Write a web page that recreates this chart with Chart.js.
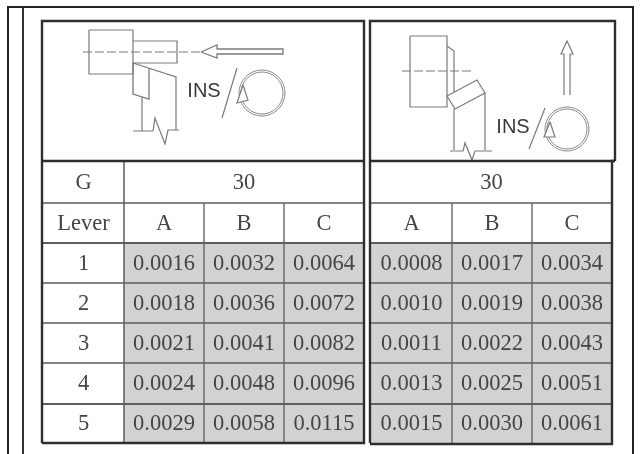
<!DOCTYPE html>
<html>
<head>
<meta charset="utf-8">
<style>
    html, body { margin: 0; padding: 0; background: #fff; }
    canvas { display: block; filter: blur(0.45px); }
</style>
<script src="https://cdn.jsdelivr.net/npm/chart.js@4/dist/chart.umd.min.js"></script>
</head>
<body>
<canvas id="feedChart" width="644" height="454"></canvas>
<script>
// Table content
const levers = [1, 2, 3, 4, 5];
const gears = ['A', 'B', 'C'];
const gLabel = 'G';
const leverLabel = 'Lever';
const gValue = '30';
const insLabel = 'INS';

// Feed values, left block
const leftA = [0.0016, 0.0018, 0.0021, 0.0024, 0.0029];
const leftB = [0.0032, 0.0036, 0.0041, 0.0048, 0.0058];
const leftC = [0.0064, 0.0072, 0.0082, 0.0096, 0.0115];

// Feed values, right block
const rightA = [0.0008, 0.0010, 0.0011, 0.0013, 0.0015];
const rightB = [0.0017, 0.0019, 0.0022, 0.0025, 0.0030];
const rightC = [0.0034, 0.0038, 0.0043, 0.0051, 0.0061];

// Table layout, in scale units (the scales run 1:1 with the page)
const rowEdges = [161, 203, 243, 283, 323, 363, 404, 443];
const leftEdges = [43, 124, 204, 284, 364];
const rightEdges = [371, 452, 532, 612];

const DARK = '#2e2e2e';
const GRID = '#5e5e5e';
const SKETCH = '#7a7a7a';
const TEXT = '#454545';

// Turn a column of values into floating bars, one per row
function columnCells(values, left, right) {
    return values.map((value, i) => ({
        x: (left + right) / 2,
        y: [rowEdges[i + 2], rowEdges[i + 3]],
        label: value.toFixed(4)
    }));
}

const cells = [
    ...columnCells(leftA, leftEdges[1], leftEdges[2]),
    ...columnCells(leftB, leftEdges[2], leftEdges[3]),
    ...columnCells(leftC, leftEdges[3], leftEdges[4]),
    ...columnCells(rightA, rightEdges[0], rightEdges[1]),
    ...columnCells(rightB, rightEdges[1], rightEdges[2]),
    ...columnCells(rightC, rightEdges[2], rightEdges[3])
];

function path(points, color, width, extra) {
    return Object.assign({
        type: 'scatter',
        showLine: true,
        fill: false,
        data: points.map(p => ({ x: p[0], y: p[1] })),
        borderColor: color,
        borderWidth: width,
        pointRadius: 0,
        order: 2
    }, extra || {});
}

function ring(x, y, radius) {
    return {
        type: 'scatter',
        data: [{ x: x, y: y }],
        pointRadius: radius,
        pointBorderColor: '#8a8a8a',
        pointBackgroundColor: 'rgba(0,0,0,0)',
        pointBorderWidth: 1,
        order: 3
    };
}

const datasets = [];

// Gray value cells
datasets.push({
    type: 'bar',
    data: cells,
    backgroundColor: '#d2d2d2',
    barThickness: 80,
    grouped: false,
    order: 10
});

// Outer page frame
datasets.push(path([[8, 454], [8, 7], [633, 7], [633, 454]], '#222', 2));
datasets.push(path([[23, 7], [23, 454]], '#333', 2));

// Boxes around the sketches and the table blocks
datasets.push(path([[42, 443], [42, 21], [364, 21], [364, 443], [42, 443]], DARK, 2.4));
datasets.push(path([[370, 443], [370, 21], [615, 21], [615, 161]], DARK, 2.4));
datasets.push(path([[615, 161], [612, 161], [612, 444], [370, 444]], DARK, 2.4));
datasets.push(path([[42, 161], [364, 161]], DARK, 2.6));
datasets.push(path([[370, 161], [615, 161]], DARK, 2.6));

// Table rules
rowEdges.slice(1, -1).forEach((y, i) => {
    const width = i === 1 || i === 5 ? 2 : 1.4;
    datasets.push(path([[leftEdges[0], y], [leftEdges[4], y]], GRID, width));
    datasets.push(path([[rightEdges[0], y], [rightEdges[3], y]], GRID, width));
});
datasets.push(path([[leftEdges[1], rowEdges[0]], [leftEdges[1], rowEdges[7]]], GRID, 1.5));
leftEdges.slice(2, 4).forEach(x => {
    datasets.push(path([[x, rowEdges[1]], [x, rowEdges[7]]], GRID, 1.3));
});
rightEdges.slice(1, 3).forEach(x => {
    datasets.push(path([[x, rowEdges[1]], [x, rowEdges[7]]], GRID, 1.3));
});

// Left sketch: tool holder, feed arrow, spindle direction
datasets.push(path([[89, 30], [133, 30], [133, 74], [89, 74], [89, 30]], SKETCH, 1.2));
datasets.push(path([[133, 41], [177, 41], [177, 63], [133, 63]], SKETCH, 1.2));
datasets.push(path([[83, 52], [200, 52]], SKETCH, 1, { borderDash: [9, 3] }));
datasets.push(path([[201, 52], [217, 45], [217, 49], [283, 49], [283, 54], [217, 54], [217, 58], [201, 52]], SKETCH, 1.3));
datasets.push(path([[133, 63], [176, 77], [176, 130]], SKETCH, 1.2));
datasets.push(path([[133, 63], [133, 94], [149, 99], [149, 68]], SKETCH, 1.3));
datasets.push(path([[142, 97], [142, 131]], SKETCH, 1.2));
datasets.push(path([[133, 131], [153, 131], [155, 118], [165, 144], [168, 130], [179, 130]], SKETCH, 1.2));
datasets.push(path([[237, 68], [222, 118]], SKETCH, 1.2));
datasets.push(ring(262, 93, 23));
datasets.push(ring(262, 93, 21));
datasets.push(path([[243, 85], [237, 103], [248, 100], [243, 85]], SKETCH, 1.2,
    { fill: 'shape', backgroundColor: '#fff', order: 1 }));

// Right sketch
datasets.push(path([[410, 36], [447, 36], [447, 107], [410, 107], [410, 36]], SKETCH, 1.2));
datasets.push(path([[402, 71], [473, 71]], SKETCH, 1, { borderDash: [9, 3] }));
datasets.push(path([[447, 96], [477, 80], [485, 93], [455, 109], [447, 96]], SKETCH, 1.2));
datasets.push(path([[447, 46], [454, 51], [454, 92]], SKETCH, 1.2));
datasets.push(path([[454, 109], [454, 150]], SKETCH, 1.2));
datasets.push(path([[485, 93], [485, 150]], SKETCH, 1.2));
datasets.push(path([[450, 151], [463, 151], [465, 143], [472, 160], [475, 151], [492, 151]], SKETCH, 1.2));
datasets.push(path([[564, 95], [564, 54], [561, 54], [567, 41], [573, 54], [570, 54], [570, 95]], SKETCH, 1.2));
datasets.push(path([[545, 108], [529, 149]], SKETCH, 1.2));
datasets.push(ring(567, 129, 22));
datasets.push(ring(567, 129, 20));
datasets.push(path([[550, 122], [544, 137], [555, 137], [550, 122]], SKETCH, 1.2,
    { fill: 'shape', backgroundColor: '#fff', order: 1 }));

// Writes the table text and the INS marks through the scales
const tableText = {
    id: 'tableText',
    afterDatasetsDraw(chart) {
        const ctx = chart.ctx;
        const px = v => chart.scales.x.getPixelForValue(v);
        const py = v => chart.scales.y.getPixelForValue(v);
        const mid = (a, b) => (a + b) / 2;

        function put(text, x, y) {
            ctx.fillText(text, px(x), py(y));
        }

        ctx.save();
        ctx.textAlign = 'center';
        ctx.textBaseline = 'middle';
        ctx.fillStyle = TEXT;
        ctx.font = '22.5px "Liberation Serif"';

        put(gLabel, mid(leftEdges[0], leftEdges[1]), mid(rowEdges[0], rowEdges[1]) + 1);
        put(leverLabel, mid(leftEdges[0], leftEdges[1]), mid(rowEdges[1], rowEdges[2]) + 1);
        put(gValue, mid(leftEdges[1], leftEdges[4]), mid(rowEdges[0], rowEdges[1]) + 1);
        put(gValue, mid(rightEdges[0], rightEdges[3]), mid(rowEdges[0], rowEdges[1]) + 1);

        gears.forEach((gear, i) => {
            put(gear, mid(leftEdges[i + 1], leftEdges[i + 2]), mid(rowEdges[1], rowEdges[2]) + 1);
            put(gear, mid(rightEdges[i], rightEdges[i + 1]), mid(rowEdges[1], rowEdges[2]) + 1);
        });

        levers.forEach((lever, i) => {
            put(String(lever), mid(leftEdges[0], leftEdges[1]), mid(rowEdges[i + 2], rowEdges[i + 3]) + 1);
        });

        cells.forEach(cell => {
            put(cell.label, cell.x, mid(cell.y[0], cell.y[1]) + 1);
        });

        ctx.font = '20px "Liberation Sans"';
        ctx.fillStyle = '#3a3a3a';
        put(insLabel, 204, 91);
        put(insLabel, 513, 127);
        ctx.restore();
    }
};

new Chart(document.getElementById('feedChart').getContext('2d'), {
    data: { datasets: datasets },
    plugins: [tableText],
    options: {
        responsive: false,
        animation: false,
        layout: { padding: 0, autoPadding: false },
        plugins: { legend: { display: false }, tooltip: { enabled: false } },
        scales: {
            x: { type: 'linear', min: 0, max: 644, offset: false, display: false },
            y: { type: 'linear', min: 0, max: 454, reverse: true, offset: false, display: false }
        }
    }
});
</script>
</body>
</html>
